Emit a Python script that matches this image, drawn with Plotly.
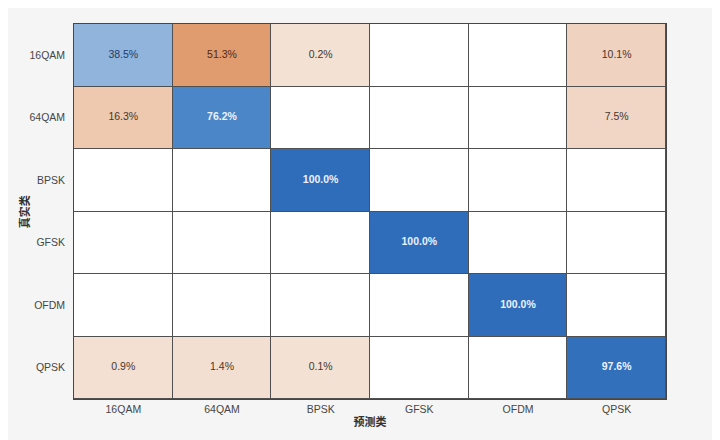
import plotly.graph_objects as go

classes = ["16QAM", "64QAM", "BPSK", "GFSK", "OFDM", "QPSK"]
# row-normalised percentages (rows = true class, cols = predicted class)
row_16qam = [38.5, 51.3, 0.2, 0.0, 0.0, 10.1]
row_64qam = [16.3, 76.2, 0.0, 0.0, 0.0, 7.5]
row_bpsk = [0.0, 0.0, 100.0, 0.0, 0.0, 0.0]
row_gfsk = [0.0, 0.0, 0.0, 100.0, 0.0, 0.0]
row_ofdm = [0.0, 0.0, 0.0, 0.0, 100.0, 0.0]
row_qpsk = [0.9, 1.4, 0.1, 0.0, 0.0, 97.6]
matrix = [row_16qam, row_64qam, row_bpsk, row_gfsk, row_ofdm, row_qpsk]

n = len(classes)
diag_z = [[(matrix[i][j] if (i == j and matrix[i][j] > 0) else None) for j in range(n)] for i in range(n)]
off_z = [[(matrix[i][j] if (i != j and matrix[i][j] > 0) else None) for j in range(n)] for i in range(n)]
base_z = [[0 for _ in range(n)] for _ in range(n)]

blue_scale = [
    [0.0, "rgb(225,235,247)"],
    [0.385, "rgb(145,180,220)"],
    [0.762, "rgb(75,135,200)"],
    [1.0, "rgb(47,109,186)"],
]
orange_scale = [
    [0.0, "rgb(243,225,212)"],
    [0.1, "rgb(240,210,192)"],
    [0.163, "rgb(238,200,175)"],
    [0.513, "rgb(224,155,110)"],
    [1.0, "rgb(217,100,45)"],
]

fig = go.Figure()
common = dict(x=classes, y=classes, xgap=1, ygap=1, showscale=False, hoverinfo="skip")
fig.add_trace(go.Heatmap(z=base_z, colorscale=[[0, "white"], [1, "white"]], zmin=0, zmax=1, **common))
fig.add_trace(go.Heatmap(z=off_z, colorscale=orange_scale, zmin=0, zmax=100, **common))
fig.add_trace(go.Heatmap(z=diag_z, colorscale=blue_scale, zmin=0, zmax=100, **common))

# text labels
tx, ty, tt, tc = [], [], [], []
for i in range(n):
    for j in range(n):
        v = matrix[i][j]
        if v > 0:
            tx.append(classes[j])
            ty.append(classes[i])
            if i == j and v > 60:
                tt.append("<b>%.1f%%</b>" % v)
                tc.append("rgb(235,242,255)")
            elif i == j:
                tt.append("%.1f%%" % v)
                tc.append("rgb(35,60,105)")
            elif v > 40:
                tt.append("%.1f%%" % v)
                tc.append("rgb(85,40,15)")
            else:
                tt.append("%.1f%%" % v)
                tc.append("rgb(70,55,45)")
fig.add_trace(go.Scatter(x=tx, y=ty, mode="text", text=tt,
                         textfont=dict(color=tc, size=10.5, family="Liberation Sans, Arial"),
                         hoverinfo="skip", showlegend=False))

axis_common = dict(showline=True, linecolor="rgb(70,70,70)", linewidth=1, mirror=True,
                   showgrid=False, zeroline=False, ticks="", automargin=False,
                   tickfont=dict(size=10.5, color="rgb(70,70,70)", family="Liberation Sans, Arial"))
fig.update_layout(
    width=720, height=440,
    margin=dict(l=66, r=62, t=16, b=49),
    paper_bgcolor="rgb(245,245,245)",
    plot_bgcolor="rgb(80,80,80)",
    showlegend=False,
    xaxis=dict(**axis_common, categoryorder="array", categoryarray=classes,
               title=dict(text="<b>预测类</b>", standoff=4,
                          font=dict(size=11, color="rgb(50,50,50)", family="Noto Sans CJK SC"))),
    yaxis=dict(**axis_common, categoryorder="array", categoryarray=classes, autorange="reversed",
               ticksuffix="  "),
    annotations=[dict(text="<b>真实类</b>", xref="paper", yref="paper", x=-0.085, y=0.5,
                      xanchor="center", yanchor="middle", textangle=-90, showarrow=False,
                      font=dict(size=11, color="rgb(50,50,50)", family="Noto Sans CJK SC"))],
)
fig.write_html("out.html")
